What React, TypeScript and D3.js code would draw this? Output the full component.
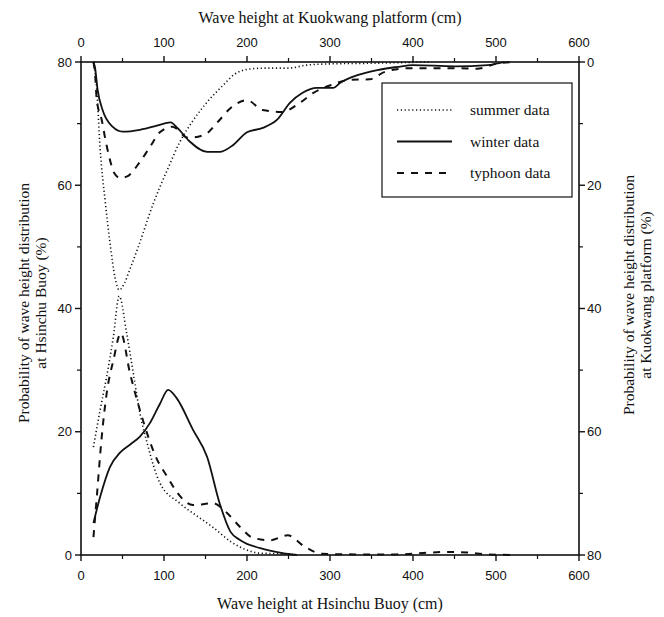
import React from "react";
import * as d3 from "d3";

// Hsinchu Buoy (bottom x axis, left y axis) — [wave height cm, probability %]
const hsinchuSummer: [number, number][] = [
  [15, 17.5], [23, 23.5], [31, 29], [39, 35.4], [46, 42], [55, 36], [63, 29.5], [71, 23],
  [80, 18], [95, 11.7], [119, 8.4], [140, 6.3], [159, 4.5], [180, 2.2], [200, 0.8], [215, 0.3],
  [240, 0.2], [260, 0],
];
const hsinchuWinter: [number, number][] = [
  [15, 5.2], [23, 9.4], [35, 14.3], [47, 16.6], [60, 18], [71, 19.2], [83, 21.4], [95, 24.5],
  [105, 26.8], [115, 25.5], [135, 20.3], [152, 15.9], [167, 8.4], [180, 3.8], [192, 2.4],
  [216, 1.1], [243, 0.3], [260, 0],
];
const hsinchuTyphoon: [number, number][] = [
  [15, 2.9], [19, 9.4], [25, 19.2], [31, 26.3], [39, 31.6], [48, 36], [59, 29.5], [71, 23.5],
  [92, 15.4], [104, 12.7], [116, 10.1], [135, 8.1], [159, 8.4], [176, 6.8], [192, 4.5],
  [207, 2.8], [228, 2.4], [249, 3.2], [270, 1.3], [290, 0.2], [330, 0.1], [380, 0.1],
  [420, 0.4], [445, 0.5], [465, 0.4], [490, 0.1], [520, 0],
];

// Kuokwang platform (top x axis, right y axis reversed)
const kuokwangSummer: [number, number][] = [
  [15, 0], [19, 4.5], [23, 14], [29, 22.4], [35, 29.4], [41, 35], [46, 37], [52, 36],
  [59, 33.6], [69, 30], [87, 23], [104, 17.5], [119, 13], [135, 9.5], [152, 6.5], [171, 3.8],
  [185, 2], [200, 1.2], [220, 1], [250, 1], [272, 0.5], [300, 0.3], [350, 0.2], [420, 0],
];
const kuokwangWinter: [number, number][] = [
  [15, 0], [17, 1], [20, 4.5], [26, 7.8], [38, 10.5], [50, 11.3], [71, 11], [87, 10.5],
  [100, 10], [108, 9.8], [116, 10.7], [131, 12.9], [152, 14.6], [167, 14.6], [183, 13.5],
  [200, 11.4], [219, 10.7], [236, 9.4], [252, 6.6], [267, 5], [284, 4.2], [304, 4.2],
  [312, 3.4], [334, 2.1], [357, 1.3], [381, 0.8], [400, 0.5], [450, 0.7], [490, 0.5], [510, 0],
];
const kuokwangTyphoon: [number, number][] = [
  [15, 0], [17, 2], [19, 6.2], [25, 9.4], [29, 12.3], [34, 15.4], [40, 18], [47, 18.8],
  [55, 18.6], [71, 16.2], [83, 13.8], [95, 11.4], [110, 10.5], [129, 12.3], [149, 11.8],
  [165, 9.7], [180, 7.5], [200, 6.2], [219, 7.8], [242, 8.1], [264, 6.6], [280, 5],
  [302, 3.7], [324, 2.9], [348, 2.8], [366, 1.6], [396, 1], [453, 1], [477, 1.1], [500, 0.3],
  [520, 0],
];

const xTicks = [0, 100, 200, 300, 400, 500, 600];
const xMinorTicks = [50, 150, 250, 350, 450, 550];
const yTicks = [0, 20, 40, 60, 80];
const yMinorTicks = [10, 30, 50, 70];

const legendItems = [
  { label: "summer data", dash: "1.2,2.6", width: 1.6 },
  { label: "winter data", dash: "none", width: 1.8 },
  { label: "typhoon data", dash: "7,7", width: 2 },
];

const W = 664;
const H = 617;
const L = 81, R = 579, T = 62, B = 555;

export default function App() {
  const x = d3.scaleLinear().domain([0, 600]).range([L, R]);
  const yL = d3.scaleLinear().domain([0, 80]).range([B, T]);
  const yR = d3.scaleLinear().domain([0, 80]).range([T, B]);

  const lineL = d3.line<[number, number]>().x(d => x(d[0])).y(d => yL(d[1])).curve(d3.curveMonotoneX);
  const lineR = d3.line<[number, number]>().x(d => x(d[0])).y(d => yR(d[1])).curve(d3.curveMonotoneX);

  const serif = "'Liberation Serif', 'Times New Roman', serif";
  const sans = "'Liberation Sans', Arial, sans-serif";
  const stroke = "#111";
  const tickFs = 13;
  const titleFs = 16;

  return (
    <svg width={W} height={H} style={{ position: "absolute", left: 0, top: 0, background: "#fff" }}>
      {/* frame */}
      <rect x={L} y={T} width={R - L} height={B - T} fill="none" stroke={stroke} strokeWidth={1.6} />

      {/* bottom axis */}
      {xTicks.map(t => (
        <g key={"bx" + t}>
          <line x1={x(t)} x2={x(t)} y1={B} y2={B + 6} stroke={stroke} strokeWidth={1.4} />
          <text x={x(t)} y={B + 25} textAnchor="middle" fontFamily={sans} fontSize={tickFs} fill={stroke}>{t}</text>
        </g>
      ))}
      {xMinorTicks.map(t => (
        <line key={"bxm" + t} x1={x(t)} x2={x(t)} y1={B} y2={B + 4} stroke={stroke} strokeWidth={1.2} />
      ))}
      {/* top axis */}
      {xTicks.map(t => (
        <g key={"tx" + t}>
          <line x1={x(t)} x2={x(t)} y1={T} y2={T - 6} stroke={stroke} strokeWidth={1.4} />
          <text x={x(t)} y={T - 15} textAnchor="middle" fontFamily={sans} fontSize={tickFs} fill={stroke}>{t}</text>
        </g>
      ))}
      {xMinorTicks.map(t => (
        <line key={"txm" + t} x1={x(t)} x2={x(t)} y1={T} y2={T - 4} stroke={stroke} strokeWidth={1.2} />
      ))}
      {/* left axis */}
      {yTicks.map(t => (
        <g key={"ly" + t}>
          <line x1={L} x2={L - 6} y1={yL(t)} y2={yL(t)} stroke={stroke} strokeWidth={1.4} />
          <text x={L - 9} y={yL(t) + 4.5} textAnchor="end" fontFamily={sans} fontSize={tickFs} fill={stroke}>{t}</text>
        </g>
      ))}
      {yMinorTicks.map(t => (
        <line key={"lym" + t} x1={L} x2={L - 4} y1={yL(t)} y2={yL(t)} stroke={stroke} strokeWidth={1.2} />
      ))}
      {/* right axis */}
      {yTicks.map(t => (
        <g key={"ry" + t}>
          <line x1={R} x2={R + 6} y1={yR(t)} y2={yR(t)} stroke={stroke} strokeWidth={1.4} />
          <text x={R + 8} y={yR(t) + 4.5} textAnchor="start" fontFamily={sans} fontSize={tickFs} fill={stroke}>{t}</text>
        </g>
      ))}
      {yMinorTicks.map(t => (
        <line key={"rym" + t} x1={R} x2={R + 4} y1={yR(t)} y2={yR(t)} stroke={stroke} strokeWidth={1.2} />
      ))}

      {/* axis titles */}
      <text x={(L + R) / 2} y={23} textAnchor="middle" fontFamily={serif} fontSize={titleFs} fill={stroke}>
        Wave height at Kuokwang platform (cm)
      </text>
      <text x={(L + R) / 2} y={609} textAnchor="middle" fontFamily={serif} fontSize={titleFs} fill={stroke}>
        Wave height at Hsinchu Buoy (cm)
      </text>
      <g transform={`translate(29, 303) rotate(-90)`}>
        <text x={0} y={0} textAnchor="middle" fontFamily={serif} fontSize={15.5} fill={stroke}>
          Probability of wave height distribution
        </text>
        <text x={0} y={17} textAnchor="middle" fontFamily={serif} fontSize={15.5} fill={stroke}>
          at Hsinchu Buoy  (%)
        </text>
      </g>
      <g transform={`translate(634, 295) rotate(-90)`}>
        <text x={0} y={0} textAnchor="middle" fontFamily={serif} fontSize={15.5} fill={stroke}>
          Probability of wave height distribution
        </text>
        <text x={0} y={17} textAnchor="middle" fontFamily={serif} fontSize={15.5} fill={stroke}>
          at Kuokwang platform (%)
        </text>
      </g>

      {/* curves */}
      <g fill="none" stroke={stroke}>
        <path d={lineL(hsinchuSummer) || ""} strokeWidth={1.6} strokeDasharray="1.2,2.6" />
        <path d={lineL(hsinchuWinter) || ""} strokeWidth={1.8} />
        <path d={lineL(hsinchuTyphoon) || ""} strokeWidth={2} strokeDasharray="7,7" />
        <path d={lineR(kuokwangSummer) || ""} strokeWidth={1.6} strokeDasharray="1.2,2.6" />
        <path d={lineR(kuokwangWinter) || ""} strokeWidth={1.8} />
        <path d={lineR(kuokwangTyphoon) || ""} strokeWidth={2} strokeDasharray="7,7" />
      </g>

      {/* legend */}
      <rect x={382} y={83} width={190} height={114} fill="#fff" stroke={stroke} strokeWidth={1.2} />
      {legendItems.map((it, i) => (
        <g key={it.label}>
          <line x1={397} x2={452} y1={110 + i * 31.5} y2={110 + i * 31.5} stroke={stroke}
            strokeWidth={it.width} strokeDasharray={it.dash} />
          <text x={470} y={115 + i * 31.5} fontFamily={serif} fontSize={15.5} fill={stroke}>{it.label}</text>
        </g>
      ))}
    </svg>
  );
}
